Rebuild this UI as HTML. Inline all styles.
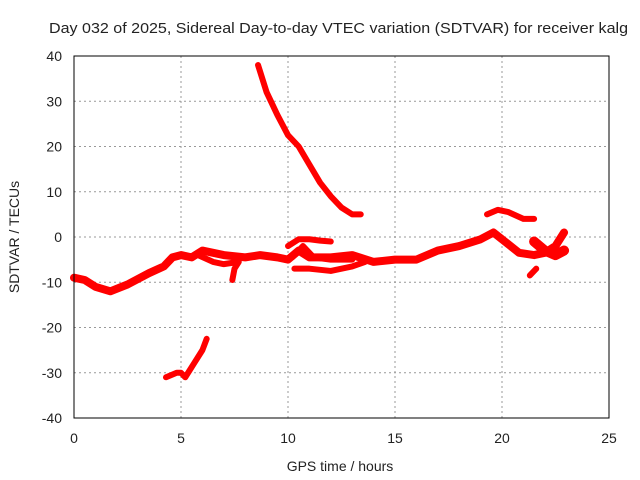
<!DOCTYPE html>
<html><head><meta charset="utf-8"><style>
body{margin:0;background:#fff}
svg{display:block;font-family:"Liberation Sans",sans-serif}
</style></head><body>
<svg id="c" width="640" height="480">
<text x="49" y="33" font-size="15" textLength="579" lengthAdjust="spacingAndGlyphs" fill="#222">Day 032 of 2025, Sidereal Day-to-day VTEC variation (SDTVAR) for receiver kalg</text>
<text x="340" y="471" font-size="14" text-anchor="middle" fill="#222">GPS time / hours</text>
<text transform="translate(19,237) rotate(-90)" font-size="14" text-anchor="middle" fill="#222">SDTVAR / TECUs</text>
<g id="grid"></g><g id="ticks"></g><g id="series"></g>
<rect x="74" y="56" width="535" height="362" fill="none" stroke="#000" stroke-width="1"/>
</svg>
<script>
const xTicks=[0,5,10,15,20,25];
const yTicks=[40,30,20,10,0,-10,-20,-30,-40];
const segMain=[[0,-9],[0.5,-9.5],[1,-11],[1.7,-12],[2.5,-10.5],[3.5,-8],[4.2,-6.5],[4.6,-4.5],[5,-4],[5.5,-4.5],[6,-3],[7,-4],[8,-4.5],[8.7,-4],[9.5,-4.5],[10,-5],[10.5,-3],[11,-4.5],[12,-4.5],[13,-4],[14,-5.5],[15,-5],[16,-5],[17,-3],[18,-2],[19,-0.5],[19.6,1],[20,-0.5],[20.8,-3.5],[21.5,-4],[22,-3.5],[22.5,-2],[22.9,1]];
const segLower=[[5.8,-4],[6.5,-5.5],[7,-6],[7.7,-5.5],[7.5,-7],[7.4,-9.5]];
const segUpper=[[10,-2],[10.5,-0.5],[11,-0.5],[11.5,-0.8],[12,-1]];
const segCross=[[10.2,-4.5],[10.7,-2],[11.2,-4.5],[12,-5],[13,-5]];
const segLow7=[[10.3,-7],[11,-7],[12,-7.5],[13,-6.5],[13.6,-5.5]];
const segTail=[[21.5,-1],[22,-3],[22.5,-4],[22.9,-3]];
const segHigh=[[19.3,5],[19.8,6],[20.3,5.5],[21,4],[21.5,4]];
const segDot=[[21.3,-8.5],[21.6,-7]];
const segDesc=[[8.6,38],[9,32],[9.5,27],[10,22.5],[10.5,20],[11,16],[11.5,12],[12,9],[12.5,6.5],[13,5],[13.4,5]];
const segBottom=[[4.3,-31],[4.8,-30],[5,-30],[5.2,-31],[5.6,-28],[6,-25],[6.2,-22.5]];
const series=[segMain,segLower,segUpper,segCross,segLow7,segTail,segHigh,segDot,segDesc,segBottom];
const names=['track-main','track-lower','track-upper','track-cross','track-low','track-tail','track-high','track-dot','track-descending','track-bottom'];
const X=h=>74+h*535/25, Y=v=>237-v*362/80;
const NS='http://www.w3.org/2000/svg';
const grid=document.getElementById('grid'),tk=document.getElementById('ticks'),sr=document.getElementById('series');
xTicks.forEach(t=>{
 if(t>0&&t<25){const l=document.createElementNS(NS,'line');l.setAttribute('x1',X(t));l.setAttribute('x2',X(t));l.setAttribute('y1',56);l.setAttribute('y2',418);l.setAttribute('stroke','#999');l.setAttribute('stroke-dasharray','2,3');
 
 grid.appendChild(l);}
 const s=document.createElementNS(NS,'text');s.setAttribute('x',X(t));s.setAttribute('y',443);s.setAttribute('font-size','14');s.setAttribute('text-anchor','middle');s.setAttribute('fill','#222');s.textContent=t;
 
 tk.appendChild(s);
});
yTicks.forEach(t=>{
 if(t>-40&&t<40){const l=document.createElementNS(NS,'line');l.setAttribute('x1',74);l.setAttribute('x2',609);l.setAttribute('y1',Y(t));l.setAttribute('y2',Y(t));l.setAttribute('stroke','#999');l.setAttribute('stroke-dasharray','2,3');
 
 grid.appendChild(l);}
 const s=document.createElementNS(NS,'text');s.setAttribute('x',62);s.setAttribute('y',Y(t)+5);s.setAttribute('font-size','14');s.setAttribute('text-anchor','end');s.setAttribute('fill','#222');s.textContent=t;
 
 tk.appendChild(s);
});
series.forEach((seg,i)=>{
 const p=document.createElementNS(NS,'polyline');
 p.setAttribute('points',seg.map(d=>X(d[0])+','+Y(d[1])).join(' '));
 p.setAttribute('fill','none');p.setAttribute('stroke','#f00');p.setAttribute('stroke-width',i===5?'10':(i===0?'8':'6'));p.setAttribute('stroke-linejoin','round');p.setAttribute('stroke-linecap','round');
 
 
 sr.appendChild(p);
});
</script>
</body></html>
